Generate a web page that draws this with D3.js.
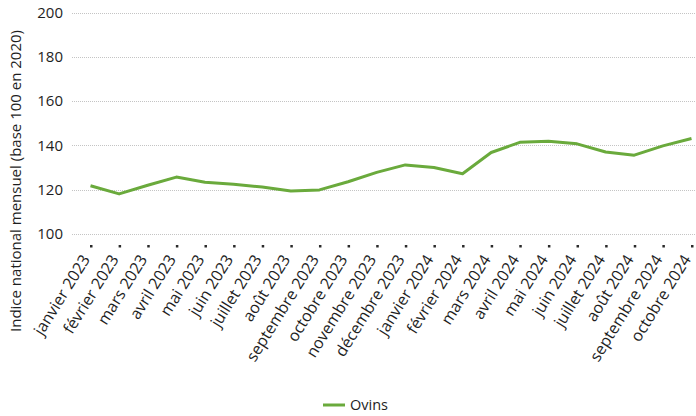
<!DOCTYPE html>
<html>
<head>
<meta charset="utf-8">
<script src="https://cdn.jsdelivr.net/npm/d3@7"></script>
<style>
  html, body { margin: 0; padding: 0; background: #fff; }
  svg { display: block; font-family: "Open Sans", "Noto Sans", sans-serif; }
</style>
</head>
<body>
<svg id="chart" width="696" height="416"></svg>
<script>
// Monthly categories (x axis)
const months = [
  "janvier 2023", "février 2023", "mars 2023", "avril 2023", "mai 2023", "juin 2023",
  "juillet 2023", "août 2023", "septembre 2023", "octobre 2023", "novembre 2023", "décembre 2023",
  "janvier 2024", "février 2024", "mars 2024", "avril 2024", "mai 2024", "juin 2024",
  "juillet 2024", "août 2024", "septembre 2024", "octobre 2024"
];
// Ovins index, base 100 in 2020
const ovins = [
  121.8, 118.1, 122.0, 125.7, 123.4, 122.5,
  121.2, 119.4, 119.9, 123.6, 127.8, 131.2,
  130.0, 127.2, 136.8, 141.4, 141.9, 140.7,
  137.0, 135.6, 139.8, 143.1
];
const yTicks = [100, 120, 140, 160, 180, 200];
const seriesName = "Ovins";
const yTitle = "Indice national mensuel (base 100 en 2020)";

const svg = d3.select("#chart");
const green = "#6aaa3c";

const x = d3.scalePoint().domain(months).range([90.5, 691.5]);
const y = d3.scaleLinear().domain([100, 200]).range([234, 12.5]);

// Horizontal dotted grid lines
svg.append("g")
  .selectAll("line")
  .data(yTicks)
  .join("line")
  .attr("x1", 72).attr("x2", 696)
  .attr("y1", d => Math.round(y(d)) + 0.5)
  .attr("y2", d => Math.round(y(d)) + 0.5)
  .attr("stroke", "#c4c4c4")
  .attr("stroke-width", 1)
  .attr("stroke-dasharray", "1,1");

// Y axis labels
const yAxis = d3.axisLeft(y).tickValues(yTicks).tickSize(0).tickPadding(0);
svg.append("g")
  .attr("transform", "translate(63,0)")
  .call(yAxis)
  .call(g => g.select(".domain").remove())
  .selectAll("text")
  .attr("font-size", 15)
  .attr("font-family", "Open Sans, sans-serif")
  .attr("fill", "#1e1e1e");

// X axis: small square tick marks and rotated month labels
const xAxis = d3.axisBottom(x).tickSize(0).tickPadding(0);
const gx = svg.append("g")
  .attr("transform", "translate(0,246)")
  .call(xAxis)
  .call(g => g.select(".domain").remove());
gx.selectAll(".tick").append("rect")
  .attr("x", -1).attr("y", -1).attr("width", 2.5).attr("height", 2.5)
  .attr("fill", "#2a2a2a");
gx.selectAll("text")
  .attr("font-size", 16)
  .attr("font-family", "Open Sans, sans-serif")
  .attr("fill", "#1e1e1e")
  .attr("text-anchor", "end")
  .attr("y", 0)
  .attr("dy", "0")
  .attr("transform", "translate(-4,11) rotate(-58)")
  .attr("dx", "0")
  .attr("dominant-baseline", "middle");

// Series line
const line = d3.line()
  .x((d, i) => x(months[i]))
  .y(d => y(d));
svg.append("path")
  .datum(ovins)
  .attr("fill", "none")
  .attr("stroke", green)
  .attr("stroke-width", 3)
  .attr("stroke-linejoin", "round")
  .attr("d", line);

// Y axis title
svg.append("text")
  .attr("transform", "translate(21,181) rotate(-90)")
  .attr("text-anchor", "middle")
  .attr("font-size", 15)
  .attr("fill", "#1e1e1e")
  .text(yTitle);

// Legend
const legend = svg.append("g").attr("transform", "translate(323,405)");
legend.append("line")
  .attr("x1", 0).attr("x2", 22).attr("y1", 0).attr("y2", 0)
  .attr("stroke", green).attr("stroke-width", 3);
legend.append("text")
  .attr("x", 27).attr("y", 0).attr("dy", "0.35em")
  .attr("font-size", 14.5)
  .attr("fill", "#1e1e1e")
  .text(seriesName);
</script>
</body>
</html>
